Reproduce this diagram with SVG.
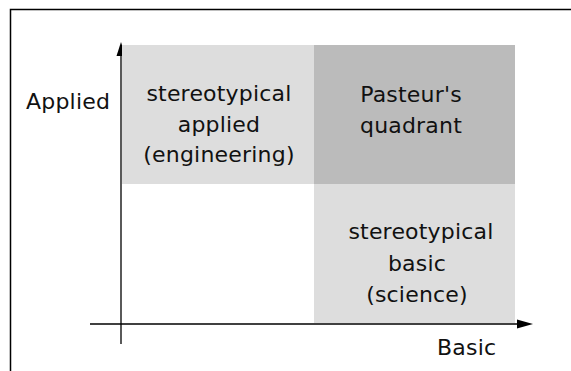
<svg xmlns="http://www.w3.org/2000/svg" width="571" height="371" viewBox="0 0 571 371">
<style>
text{font-family:"DejaVu Sans","Liberation Sans",sans-serif;font-size:22px;letter-spacing:0.2px;fill:#111}
.c{text-anchor:middle}
.ax{stroke:#000;stroke-width:1.3;fill:none}
.light{fill:#dddddd}
.dark{fill:#bbbbbb}
</style>
<rect width="571" height="371" fill="#fff"/>
<path d="M10.5 371 V9.5 H571" fill="none" stroke="#000" stroke-width="1.5"/>
<g id="connectors">
<line class="ax" x1="121" y1="344" x2="121" y2="52"/>
<polygon points="121,42 116.5,56 125.5,56" fill="#000"/>
<line class="ax" x1="90" y1="324" x2="522" y2="324"/>
<polygon points="533,324 517,319.5 517,328.5" fill="#000"/>
</g>
<g id="applied-quadrant">
<rect class="light" x="122" y="45" width="192" height="139"/>
<text class="c" x="219" y="101">stereotypical</text>
<text class="c" x="219" y="132">applied</text>
<text class="c" x="219" y="162">(engineering)</text>
</g>
<g id="pasteur-quadrant">
<rect class="dark" x="314" y="45" width="201" height="139"/>
<text class="c" x="411" y="102">Pasteur's</text>
<text class="c" x="411" y="133">quadrant</text>
</g>
<g id="basic-quadrant">
<rect class="light" x="314" y="184" width="201" height="139"/>
<text class="c" x="421" y="239">stereotypical</text>
<text class="c" x="417" y="271">basic</text>
<text class="c" x="417" y="302">(science)</text>
</g>
<g id="label-applied"><text x="26" y="109">Applied</text></g>
<g id="label-basic"><text x="437" y="355">Basic</text></g>
</svg>
